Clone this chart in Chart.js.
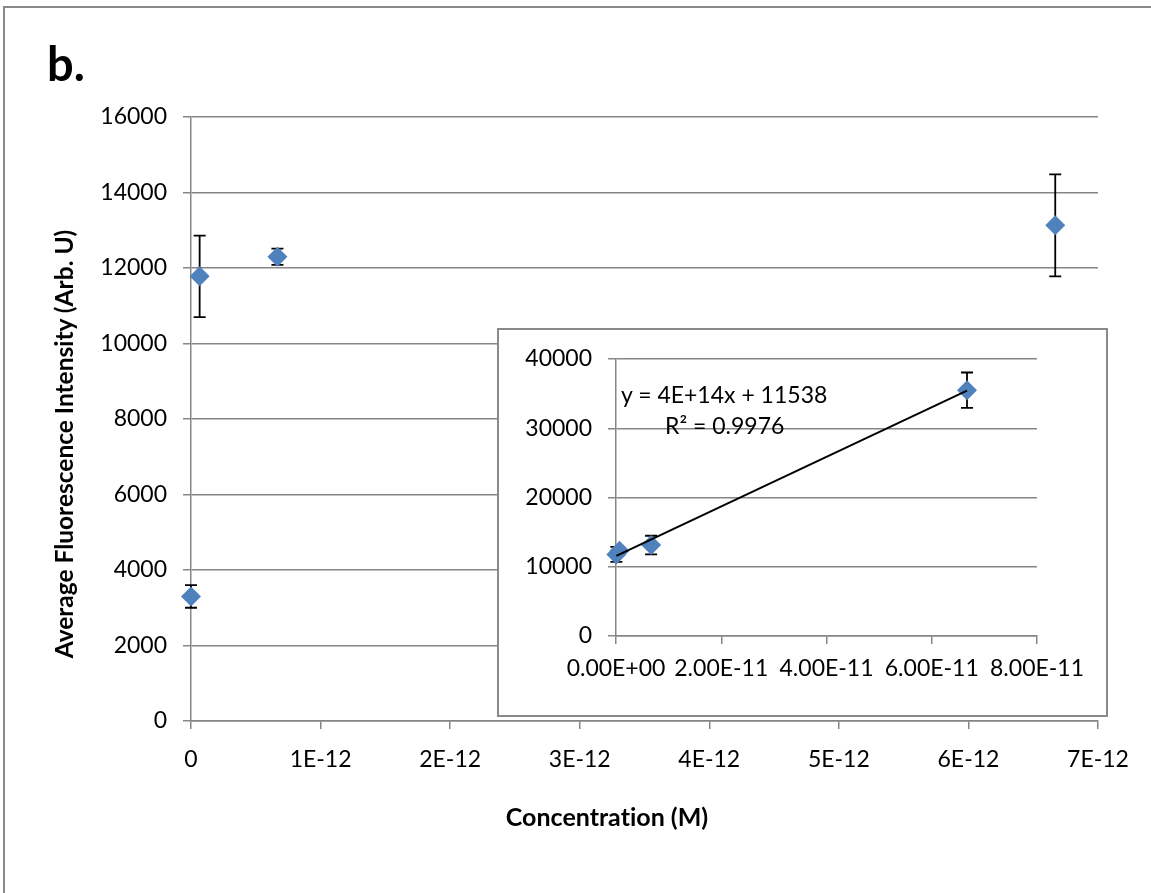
<!DOCTYPE html>
<html>
<head>
<meta charset="utf-8">
<script src="https://cdn.jsdelivr.net/npm/chart.js@4/dist/chart.umd.min.js"></script>
<style>
  html, body { margin: 0; padding: 0; background: #fff; }
  body { width: 1151px; height: 893px; position: relative; overflow: hidden; font-family: Lato, "Open Sans", sans-serif; font-variant-ligatures: none; }
  #frame { position: absolute; left: 3px; top: 6px; width: 1200px; height: 950px; border-left: 2px solid #8a8a8a; border-top: 2px solid #8a8a8a; box-sizing: border-box; }
  #main { position: absolute; left: 0; top: 0; }
  #insetWrap { position: absolute; left: 497px; top: 328px; width: 611px; height: 389px; background: #fff; border: 2px solid #8a8a8a; box-sizing: border-box; }
  #inset { position: absolute; left: -1px; top: -1px; }
  .txt { position: absolute; white-space: pre; color: #000; line-height: 1; font-variant-ligatures: none; }
  #lbl { left: 47px; top: 40px; font-size: 47px; font-weight: 700; }
  #ytitle { left: 64px; top: 444px; font-size: 24.5px; font-weight: 700; transform: translate(-50%, -50%) rotate(-90deg); }
  #xtitle { left: 607px; top: 816px; font-size: 25px; font-weight: 700; transform: translate(-50%, -50%); }
  #eq1 { left: 621px; top: 394px; font-size: 23px; transform: translate(0, -50%); }
  #eq2 { left: 665px; top: 425px; font-size: 23px; transform: translate(0, -50%); }
</style>
</head>
<body>
<div id="frame"></div>
<canvas id="main" width="1151" height="893"></canvas>
<div id="insetWrap"><canvas id="inset" width="611" height="389"></canvas></div>
<div class="txt" id="lbl">b.</div>
<div class="txt" id="ytitle">Average Fluorescence Intensity (Arb. U)</div>
<div class="txt" id="xtitle">Concentration (M)</div>
<div class="txt" id="eq1">y = 4E+14x + 11538</div>
<div class="txt" id="eq2">R² = 0.9976</div>
<script>
// ---- data ----
const mainConc = [0, 6.67e-14, 6.67e-13, 6.67e-12];          // M
const mainIntensity = [3300, 11780, 12300, 13130];           // Arb. U
const mainError = [300, 1080, 215, 1350];

const insetConc = [6.67e-14, 6.67e-13, 6.67e-12, 6.67e-11];  // M
const insetIntensity = [11780, 12300, 13130, 35500];
const insetError = [1080, 215, 1350, 2550];

const mainXTicks = [0, 1e-12, 2e-12, 3e-12, 4e-12, 5e-12, 6e-12, 7e-12];
const mainYTicks = [0, 2000, 4000, 6000, 8000, 10000, 12000, 14000, 16000];
const insetXTicks = [0, 2e-11, 4e-11, 6e-11, 8e-11];
const insetYTicks = [0, 10000, 20000, 30000, 40000];

// ---- helpers ----
const BLUE = '#4F81BD';
const GRID = '#868686';

function toPoints(xs, ys) { return xs.map((x, i) => ({ x: x, y: ys[i] })); }

function linearFit(xs, ys) {
  const n = xs.length;
  const mx = xs.reduce((a, b) => a + b, 0) / n;
  const my = ys.reduce((a, b) => a + b, 0) / n;
  let sxy = 0, sxx = 0;
  for (let i = 0; i < n; i++) { sxy += (xs[i] - mx) * (ys[i] - my); sxx += (xs[i] - mx) * (xs[i] - mx); }
  const slope = sxy / sxx;
  return { slope: slope, intercept: my - slope * mx };
}

function fmtSci2(v) {
  if (Math.abs(v) < 1e-30) return '0.00E+00';
  let s = v.toExponential(2).toUpperCase();
  const m = s.match(/^(.*)E([+-])(\d+)$/);
  return m[1] + 'E' + m[2] + (m[3].length < 2 ? '0' + m[3] : m[3]);
}
function fmtSci0(v) {
  if (Math.abs(v) < 1e-30) return '0';
  return v.toExponential(0).toUpperCase().replace('+', '');
}

const errorBars = {
  id: 'errorBars',
  beforeDatasetsDraw(chart) {
    const ctx = chart.ctx;
    const xs = chart.scales.x, ys = chart.scales.y;
    chart.data.datasets.forEach(ds => {
      if (!ds.errors) return;
      ctx.save();
      ctx.strokeStyle = '#000';
      ctx.lineWidth = 1.8;
      ds.data.forEach((p, i) => {
        const e = ds.errors[i];
        const px = xs.getPixelForValue(p.x);
        const top = ys.getPixelForValue(p.y + e);
        const bot = ys.getPixelForValue(p.y - e);
        const cap = 6;
        ctx.beginPath();
        ctx.moveTo(px, top); ctx.lineTo(px, bot);
        ctx.moveTo(px - cap, top); ctx.lineTo(px + cap, top);
        ctx.moveTo(px - cap, bot); ctx.lineTo(px + cap, bot);
        ctx.stroke();
      });
      ctx.restore();
    });
  }
};

Chart.defaults.font.family = 'Lato, "Open Sans", sans-serif';
Chart.defaults.font.size = 23;
Chart.defaults.color = '#000';
Chart.defaults.animation = false;

function scaleOpts(ticksArr, fmt, isX, fixedSize, min, max, padding) {
  return {
    type: 'linear',
    position: isX ? 'bottom' : 'left',
    min: min, max: max,
    afterBuildTicks: s => { s.ticks = ticksArr.map(v => ({ value: v })); },
    afterFit: s => { if (isX) s.height = fixedSize; else s.width = fixedSize; },
    ticks: { callback: fmt, padding: padding, maxRotation: 0, autoSkip: false, color: '#000' },
    grid: {
      color: GRID, lineWidth: 1.5, tickLength: 8,
      drawOnChartArea: !isX, drawTicks: true, tickColor: GRID, tickWidth: 1.5
    },
    border: { color: GRID, width: 1.5 }
  };
}

// ---- main chart ----
new Chart(document.getElementById('main'), {
  type: 'scatter',
  data: {
    datasets: [{
      data: toPoints(mainConc, mainIntensity),
      errors: mainError,
      pointStyle: 'rectRot', pointRadius: 10, pointBackgroundColor: BLUE,
      pointBorderColor: BLUE, pointBorderWidth: 0, clip: false
    }]
  },
  options: {
    responsive: false,
    layout: { padding: { left: 0, top: 117, right: 53, bottom: 0 } },
    plugins: { legend: { display: false }, tooltip: { enabled: false } },
    scales: {
      x: scaleOpts(mainXTicks, v => fmtSci0(v), true, 893 - 721, 0, 7e-12, 17),
      y: scaleOpts(mainYTicks, v => String(v), false, 191, 0, 16000, 16)
    }
  },
  plugins: [errorBars]
});

// ---- inset chart ----
const fit = linearFit(insetConc, insetIntensity);
const xMin = Math.min(...insetConc), xMax = Math.max(...insetConc);
new Chart(document.getElementById('inset'), {
  type: 'scatter',
  data: {
    datasets: [{
      data: [{ x: xMin, y: fit.intercept + fit.slope * xMin }, { x: xMax, y: fit.intercept + fit.slope * xMax }],
      showLine: true, borderColor: '#000', borderWidth: 2, pointRadius: 0, fill: false, clip: false
    }, {
      data: toPoints(insetConc, insetIntensity),
      errors: insetError,
      pointStyle: 'rectRot', pointRadius: 10, pointBackgroundColor: BLUE,
      pointBorderColor: BLUE, pointBorderWidth: 0, clip: false
    }]
  },
  options: {
    responsive: false,
    layout: { padding: { left: 0, top: 30, right: 72, bottom: 0 } },
    plugins: { legend: { display: false }, tooltip: { enabled: false } },
    scales: {
      x: scaleOpts(insetXTicks, v => fmtSci2(v), true, 389 - 307, 0, 8e-11, 11),
      y: scaleOpts(insetYTicks, v => String(v), false, 118, 0, 40000, 16)
    }
  },
  plugins: [errorBars]
});
</script>
</body>
</html>
